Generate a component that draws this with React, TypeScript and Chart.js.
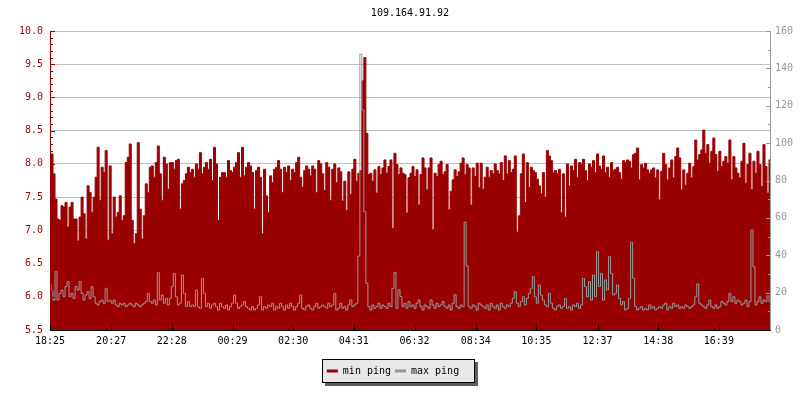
import React, { useEffect, useRef } from 'react';
import { Chart, registerables } from 'chart.js';

Chart.register(...registerables);

const chartTitle = '109.164.91.92';
const seriesNames = ['min ping', 'max ping'];
const xTickLabels = ['18:25', '20:27', '22:28', '00:29', '02:30', '04:31', '06:32', '08:34', '10:35', '12:37', '14:38', '16:39'];
const sampleMinutes = 4;

const minPing1 = [
  7.80, 8.15, 7.85, 7.47, 7.17, 7.15, 7.37, 7.35, 7.42, 7.05,
  7.35, 7.42, 7.17, 7.17, 6.84, 7.20, 7.50, 7.25, 6.87, 7.67,
  7.57, 7.27, 7.50, 7.80, 8.25, 7.45, 7.95, 7.87, 8.20, 6.85,
  7.97, 6.95, 7.50, 7.20, 7.27, 7.52, 7.15, 7.22, 8.02, 8.10,
  8.30, 7.15, 6.80, 6.95, 8.32, 7.32, 6.87, 7.22, 7.70, 7.57,
  7.95, 7.97, 7.80, 8.02, 8.27, 7.85, 7.45, 8.10, 8.00, 7.62,
  8.02, 8.02, 7.92, 8.05, 8.07, 7.32, 7.70, 7.75, 7.85, 7.95,
  7.87, 7.92,
];
const minPing2 = [
  7.80, 8.00, 7.92, 8.17, 7.85, 7.95, 8.02, 7.92, 8.07, 7.75,
  8.25, 8.00, 7.15, 7.80, 7.87, 7.87, 7.80, 8.05, 7.90, 7.87,
  7.95, 8.02, 8.17, 7.80, 8.25, 7.82, 7.95, 8.02, 7.97, 7.87,
  7.32, 7.90, 7.95, 7.80, 6.95, 7.92, 7.52, 7.27, 7.82, 7.72,
  7.92, 7.95, 8.05, 7.92, 7.57, 7.95, 7.87, 7.97, 7.75, 7.92,
  7.87, 8.02, 8.10, 7.80, 7.65, 7.90, 7.97, 7.92, 7.82, 7.97,
  7.92, 7.57, 8.05, 8.00, 7.85, 7.60, 8.02, 7.95, 7.45, 7.92,
  8.00, 7.72,
];
const minPing3 = [
  7.94, 7.88, 7.44, 7.74, 7.30, 7.88, 7.54, 7.92, 8.07, 7.74,
  7.86, 7.90, 9.25, 9.60, 8.46, 7.84, 7.86, 7.74, 7.91, 7.56,
  7.96, 7.84, 7.94, 8.06, 7.86, 7.96, 8.06, 7.03, 8.16, 7.99,
  7.84, 7.94, 7.86, 7.84, 7.26, 7.79, 7.86, 7.96, 7.81, 7.91,
  7.38, 7.84, 8.09, 7.94, 7.61, 7.94, 8.09, 7.01, 7.86, 7.81,
  7.99, 8.04, 7.84, 7.88, 7.99, 7.31, 7.59, 7.76, 7.91, 7.81,
  7.88, 8.01, 8.09, 7.84, 7.99, 7.94, 7.38, 7.94, 7.81, 8.01,
  7.64, 8.01,
];
const minPing4 = [
  7.62, 7.80, 7.95, 7.80, 7.90, 7.85, 8.00, 7.90, 7.85, 8.02,
  7.75, 8.12, 7.85, 8.05, 7.87, 7.92, 8.12, 6.97, 7.22, 7.85,
  8.15, 7.42, 8.02, 7.65, 7.95, 7.90, 7.87, 7.77, 7.67, 7.55,
  7.87, 7.50, 8.20, 8.12, 8.05, 7.87, 7.90, 7.85, 7.92, 7.27,
  7.85, 7.20, 8.00, 7.67, 7.97, 7.90, 8.07, 7.80, 8.02, 8.00,
  8.07, 7.90, 7.75, 8.00, 7.95, 8.05, 7.87, 8.15, 7.97, 7.92,
  8.12, 7.87, 7.95, 7.80, 8.02, 7.90, 7.92, 7.95, 7.87, 7.77,
  8.05, 8.02,
];
const minPing5 = [
  8.06, 8.04, 7.94, 8.14, 8.16, 8.24, 7.76, 7.99, 7.94, 8.01,
  7.91, 7.86, 7.91, 7.94, 7.79, 7.91, 7.46, 7.89, 8.16, 7.99,
  7.76, 7.94, 8.06, 7.79, 8.11, 8.24, 8.09, 7.61, 7.91, 7.68,
  7.86, 8.01, 7.79, 7.96, 8.36, 8.06, 8.14, 8.21, 8.51, 8.16,
  8.29, 8.01, 8.19, 8.39, 8.14, 7.89, 8.19, 7.96, 8.04, 8.11,
  8.01, 8.36, 7.76, 8.11, 7.94, 7.86, 7.79, 8.04, 8.31, 7.71,
  7.99, 8.16, 7.61, 8.04, 7.86, 8.19, 7.99, 7.66, 8.29, 7.96,
  7.56, 8.06,
];

const maxPing1 = [
  25.0, 21.4, 16.0, 31.2, 16.0, 19.6, 21.4, 17.8, 23.2, 25.9,
  17.8, 19.6, 16.9, 23.2, 21.4, 25.9, 19.6, 16.0, 18.7, 20.5,
  16.9, 23.2, 17.8, 14.3, 13.4, 15.2, 16.0, 14.3, 22.3, 15.2,
  16.0, 14.3, 16.0, 13.4, 12.5, 14.3, 13.4, 14.3, 12.5, 13.4,
  14.3, 13.4, 12.5, 14.3, 13.4, 12.5, 13.4, 14.3, 15.2, 19.6,
  15.2, 14.3, 16.0, 13.4, 30.7, 16.0, 18.7, 14.3, 16.9, 13.4,
  16.9, 23.2, 30.3, 17.8, 13.4, 14.3, 29.4, 19.6, 12.5, 15.2,
  12.5, 13.4,
];
const maxPing2 = [
  12.5, 21.4, 12.5, 11.6, 27.6, 19.6, 12.5, 14.3, 11.6, 13.4,
  14.3, 12.5, 10.7, 14.3, 12.5, 11.6, 13.4, 10.7, 12.5, 14.3,
  18.7, 14.3, 11.6, 12.5, 13.4, 15.2, 12.5, 11.6, 10.7, 12.5,
  10.7, 11.6, 13.4, 17.8, 10.7, 12.5, 11.6, 13.4, 12.5, 14.3,
  10.7, 12.5, 11.6, 14.3, 12.5, 10.7, 13.4, 11.6, 14.3, 12.5,
  10.7, 12.5, 14.3, 18.7, 11.6, 10.7, 12.5, 13.4, 11.6, 10.7,
  12.5, 14.3, 11.6, 12.5, 13.4, 12.5, 11.6, 14.3, 12.5, 13.4,
  19.6, 10.7,
];
const maxPing3 = [
  11.6, 14.3, 11.6, 12.5, 10.7, 13.4, 16.1, 12.5, 13.4, 14.3,
  39.6, 147.7, 117.7, 63.3, 25.0, 12.5, 10.7, 13.4, 11.6, 12.5,
  14.3, 11.6, 13.4, 12.5, 11.6, 14.3, 12.5, 22.3, 30.8, 11.6,
  21.5, 17.9, 12.5, 14.3, 11.6, 15.2, 12.5, 13.4, 11.6, 14.3,
  16.1, 12.5, 10.7, 13.4, 12.5, 11.6, 16.1, 13.4, 11.6, 14.3,
  12.5, 13.4, 15.2, 12.5, 11.6, 13.4, 10.7, 14.3, 18.8, 12.5,
  11.6, 13.4, 12.5, 57.8, 34.3, 12.5, 11.6, 13.4, 12.5, 10.7,
  14.3, 13.4,
];
const maxPing4 = [
  12.5, 11.6, 13.4, 10.7, 14.3, 12.5, 11.6, 13.4, 10.7, 14.3,
  12.5, 11.6, 13.4, 12.5, 14.3, 16.9, 20.5, 14.3, 12.5, 15.2,
  17.8, 13.4, 16.9, 19.6, 22.3, 28.5, 17.8, 14.3, 24.1, 18.7,
  16.0, 13.4, 12.5, 19.6, 14.3, 11.6, 10.7, 12.5, 13.4, 11.6,
  12.5, 16.9, 11.6, 12.5, 10.7, 13.4, 12.5, 14.3, 11.6, 13.4,
  27.6, 23.2, 17.8, 25.9, 16.0, 29.4, 17.8, 41.9, 23.2, 30.3,
  16.0, 26.8, 21.4, 39.2, 30.3, 18.7, 19.6, 24.1, 16.9, 13.4,
  15.2, 10.7,
];
const maxPing5 = [
  11.6, 16.9, 46.9, 27.7, 12.5, 10.7, 11.6, 12.5, 10.7, 11.6,
  10.7, 13.4, 11.6, 12.5, 10.7, 11.6, 12.5, 11.6, 13.4, 14.3,
  10.7, 12.5, 11.6, 14.3, 12.5, 13.4, 11.6, 12.5, 11.6, 13.4,
  12.5, 11.6, 12.5, 13.4, 17.8, 24.6, 14.3, 13.4, 12.5, 11.6,
  13.4, 16.0, 12.5, 11.6, 13.4, 11.6, 12.5, 15.2, 14.3, 13.4,
  15.2, 19.6, 15.2, 17.8, 14.3, 16.0, 15.2, 13.4, 14.3, 16.0,
  12.5, 15.2, 53.5, 33.8, 13.4, 15.2, 17.8, 14.3, 16.0, 15.2,
  18.3, 15.2,
];

const minPing = [...minPing1, ...minPing2, ...minPing3, ...minPing4, ...minPing5];
const maxPing = [...maxPing1, ...maxPing2, ...maxPing3, ...maxPing4, ...maxPing5];

const RED = '#990000';
const GRAY = '#999999';
const FONT = "'DejaVu Sans Mono', 'Liberation Mono', monospace";

const toMinutes = (label: string) => {
  const [h, m] = label.split(':').map(Number);
  return h * 60 + m;
};
const startMinutes = toMinutes(xTickLabels[0]);
const tickMinutes = xTickLabels.map((l) => (toMinutes(l) - startMinutes + 1440) % 1440);
const lastMinute = (minPing.length - 1) * sampleMinutes;

const legendBoxPlugin = {
  id: 'legendBox',
  afterLayout(chart: any) {
    const lg = chart.legend;
    if (lg) {
      lg.left -= 7;
      lg.right -= 7;
    }
  },
  beforeDraw(chart: any) {
    const lg = chart.legend;
    if (!lg || !lg.legendHitBoxes || !lg.legendHitBoxes.length) return;
    const hb = lg.legendHitBoxes;
    const first = hb[0];
    const last = hb[hb.length - 1];
    const left = Math.round(first.left - 5);
    const right = Math.round(last.left + last.width + 16);
    const top = Math.round(first.top - 7);
    const bottom = Math.round(first.top + first.height + 7);
    const ctx = chart.ctx;
    ctx.save();
    ctx.fillStyle = '#5e5e5e';
    ctx.fillRect(left + 3, top + 3, right - left, bottom - top);
    ctx.fillStyle = '#e8e8e8';
    ctx.fillRect(left, top, right - left, bottom - top);
    ctx.strokeStyle = '#000';
    ctx.lineWidth = 1;
    ctx.strokeRect(left + 0.5, top + 0.5, right - left - 1, bottom - top - 1);
    ctx.restore();
  },
};

const axesPlugin = {
  id: 'axesLines',
  afterDatasetsDraw(chart: any) {
    const { ctx, chartArea: a, scales } = chart;
    const y = scales.y;
    const y1 = scales.y1;
    const x = scales.x;
    ctx.save();
    ctx.lineWidth = 1;
    // left axis
    ctx.strokeStyle = RED;
    ctx.beginPath();
    ctx.moveTo(a.left + 0.5, a.top);
    ctx.lineTo(a.left + 0.5, a.bottom);
    const lsteps = Math.round((y.max - y.min) / 0.1);
    for (let k = 0; k <= lsteps; k++) {
      const py = Math.round(y.getPixelForValue(y.min + k * 0.1)) + 0.5;
      const len = k % 5 === 0 ? 5 : 3;
      ctx.moveTo(a.left, py);
      ctx.lineTo(a.left + len, py);
    }
    ctx.stroke();
    // right axis
    ctx.strokeStyle = GRAY;
    ctx.beginPath();
    ctx.moveTo(a.right + 0.5, a.top);
    ctx.lineTo(a.right + 0.5, a.bottom);
    const rsteps = Math.round((y1.max - y1.min) / 10);
    for (let k = 0; k <= rsteps; k++) {
      const py = Math.round(y1.getPixelForValue(y1.min + k * 10)) + 0.5;
      const len = k % 2 === 0 ? 5 : 3;
      ctx.moveTo(a.right + 1, py);
      ctx.lineTo(a.right + 1 - len, py);
    }
    ctx.stroke();
    // bottom axis
    ctx.strokeStyle = '#000';
    ctx.beginPath();
    ctx.moveTo(a.left, a.bottom + 0.5);
    ctx.lineTo(a.right + 1, a.bottom + 0.5);
    tickMinutes.forEach((m) => {
      const px = Math.round(x.getPixelForValue(m)) + 0.5;
      ctx.moveTo(px, a.bottom);
      ctx.lineTo(px, a.bottom - 5);
    });
    ctx.stroke();
    ctx.restore();
  },
};

export default function App() {
  const canvasRef = useRef<HTMLCanvasElement | null>(null);

  useEffect(() => {
    if (!canvasRef.current) return;
    const font = { family: FONT, size: 10, weight: 'normal' as const };
    const minData = minPing.map((v, i) => ({ x: i * sampleMinutes, y: v }));
    const maxData = maxPing.map((v, i) => ({ x: i * sampleMinutes, y: v }));

    const chart = new Chart(canvasRef.current, {
      type: 'line',
      data: {
        datasets: [
          {
            label: seriesNames[0],
            data: minData,
            yAxisID: 'y',
            borderColor: RED,
            backgroundColor: RED,
            borderWidth: 1,
            fill: 'start',
            stepped: 'middle',
            pointRadius: 0,
            order: 2,
          },
          {
            label: seriesNames[1],
            data: maxData,
            yAxisID: 'y1',
            borderColor: GRAY,
            backgroundColor: GRAY,
            borderWidth: 1,
            fill: false,
            stepped: 'middle',
            pointRadius: 0,
            order: 1,
          },
        ],
      },
      options: {
        animation: false,
        responsive: false,
        events: [],
        layout: { padding: { left: 0, right: 0, top: 0, bottom: 14 } },
        plugins: {
          title: {
            display: true,
            text: chartTitle,
            fullSize: false,
            color: '#000',
            font,
            padding: { top: 7, bottom: 12 },
          },
          legend: {
            position: 'bottom',
            align: 'center',
            labels: {
              usePointStyle: true,
              pointStyleWidth: 11,
              padding: 4,
              color: '#000',
              font,
              sort: (a: any, b: any) => a.datasetIndex - b.datasetIndex,
              generateLabels: (c: any) =>
                c.data.datasets.map((ds: any, i: number) => ({
                  text: ds.label,
                  fillStyle: ds.borderColor,
                  strokeStyle: ds.borderColor,
                  lineWidth: 3,
                  pointStyle: 'line',
                  hidden: false,
                  datasetIndex: i,
                  fontColor: '#000',
                })),
            },
          },
          tooltip: { enabled: false },
        },
        scales: {
          x: {
            type: 'linear',
            min: 0,
            max: lastMinute,
            grid: { display: false, drawTicks: false },
            border: { display: false },
            afterBuildTicks: (s: any) => {
              s.ticks = tickMinutes.map((v) => ({ value: v }));
            },
            afterFit: (s: any) => {
              s.height = 32;
            },
            ticks: {
              autoSkip: false,
              maxRotation: 0,
              minRotation: 0,
              padding: 5,
              color: '#000',
              font,
              callback: (_v: any, i: number) => xTickLabels[i],
            },
          },
          y: {
            position: 'left',
            min: 5.5,
            max: 10,
            grid: { color: '#c0c0c0', drawTicks: false, lineWidth: 1 },
            border: { display: false },
            afterFit: (s: any) => {
              s.width = 50;
            },
            ticks: {
              stepSize: 0.5,
              padding: 7,
              color: RED,
              font,
              callback: (v: any) => Number(v).toFixed(1),
            },
          },
          y1: {
            position: 'right',
            min: 0,
            max: 160,
            grid: { display: false, drawTicks: false },
            border: { display: false },
            afterFit: (s: any) => {
              s.width = 30;
            },
            ticks: {
              stepSize: 20,
              padding: 5,
              color: GRAY,
              font,
            },
          },
        },
      },
      plugins: [legendBoxPlugin, axesPlugin],
    });
    return () => chart.destroy();
  }, []);

  return (
    <div style={{ position: 'absolute', left: 0, top: 0, width: 800, height: 400, background: '#fff' }}>
      <canvas ref={canvasRef} width={800} height={400} style={{ display: 'block', width: 800, height: 400 }} />
    </div>
  );
}
